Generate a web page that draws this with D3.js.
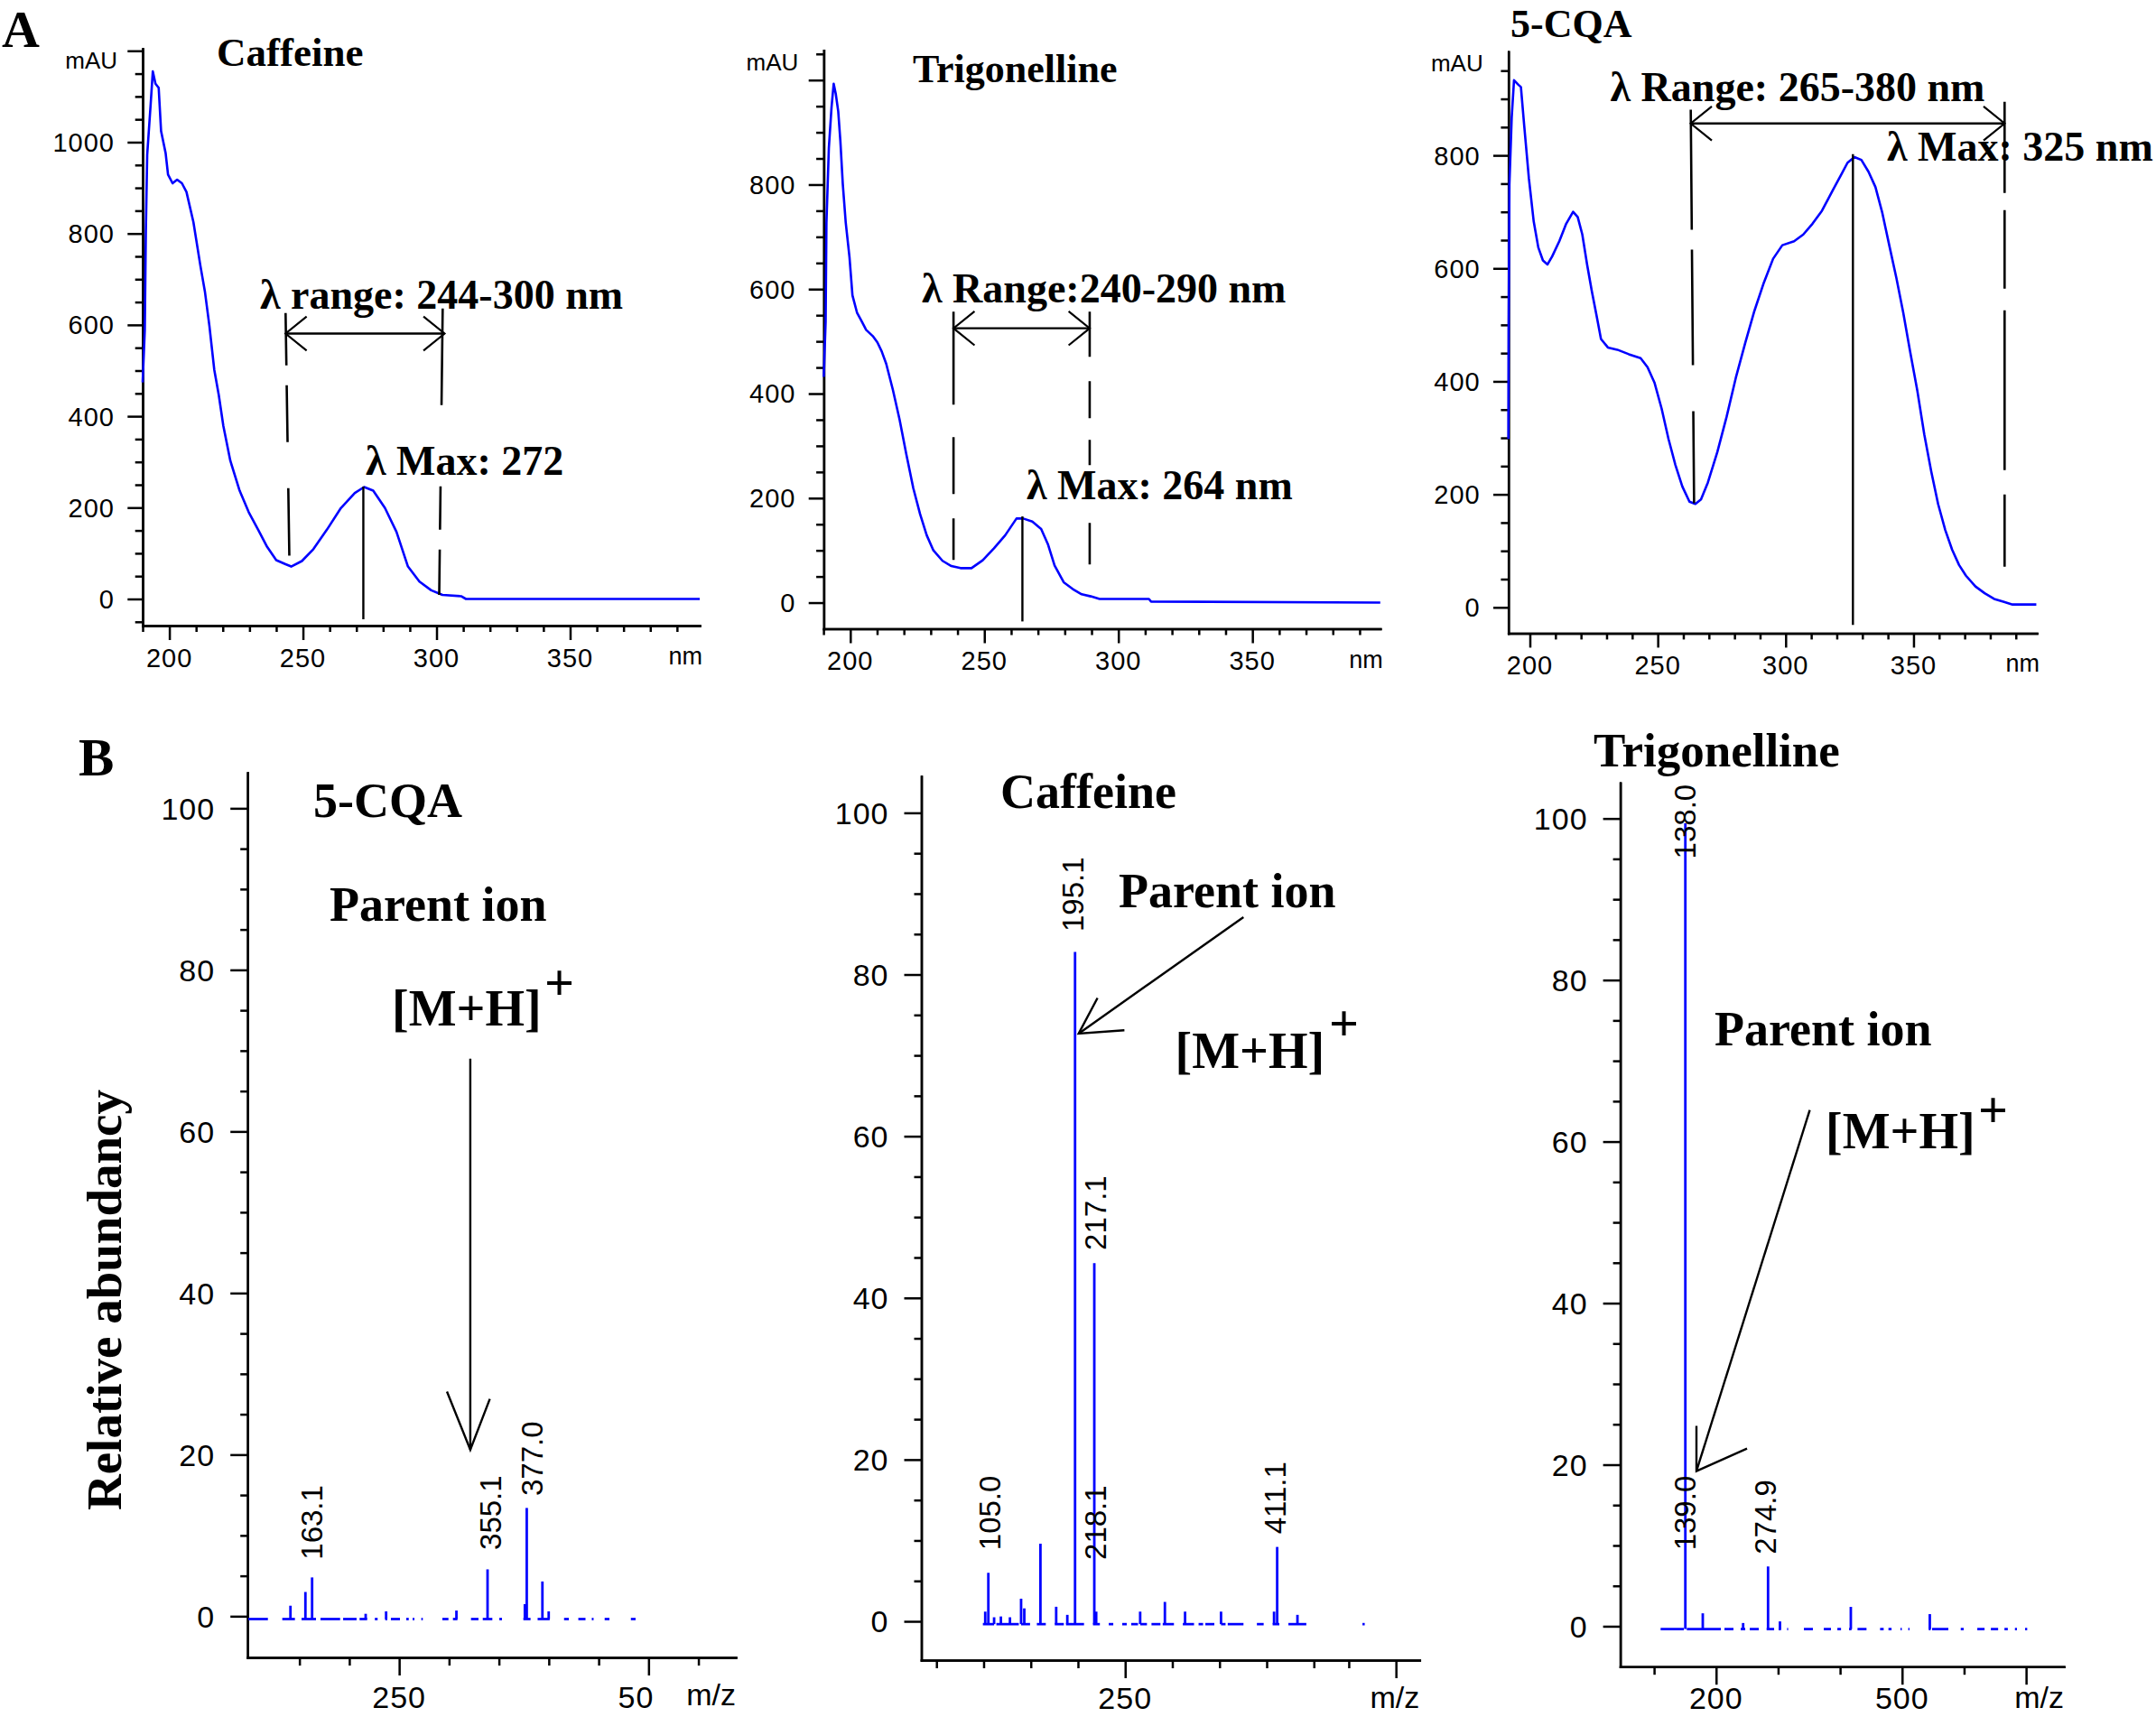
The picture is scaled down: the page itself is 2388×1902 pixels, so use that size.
<!DOCTYPE html>
<html><head><meta charset="utf-8">
<script src="https://cdn.jsdelivr.net/npm/d3@7"></script>
<style>
html,body{margin:0;padding:0;background:#fff;}
svg{display:block;}
.serif{font-family:"Liberation Serif","Times New Roman",serif;font-weight:bold;fill:#000;}
.sans{font-family:"Liberation Sans",Arial,sans-serif;fill:#000;}
</style></head><body>
<svg id="chart" width="2388" height="1902"></svg>
<script>
// ---------------- DATA ----------------
// UV spectra: [wavelength nm, absorbance mAU]
const caffeineUV = [[190,474],[190.8,588],[191.2,806],[191.7,972],[193,1083],[193.8,1155],[194.8,1128],[196,1119],[196.9,1024],[198.6,976],[199.5,929],[201.2,910],[202.9,918],[204.7,910],[206.4,891],[209,825],[211.6,730],[213.3,673],[215,597],[216.8,502],[218.5,446],[220.2,379],[222.8,303],[226.3,237],[229.7,190],[233.2,152],[236.6,114],[240,85],[243.5,76],[245.6,71],[249.6,83],[253.9,109],[259,152],[264.2,199],[269.4,232],[272.9,245],[276.3,237],[280.7,199],[285,147],[289.3,71],[293.6,38],[298,19],[302.2,9],[309.2,6],[311,0],[398.5,0]];
const trigonellineUV = [[190.1,432],[190.8,538],[191.1,727],[192,870],[193,948],[193.8,993],[194.6,973],[195.5,940],[196.3,883],[197.2,801],[198.3,727],[199.7,661],[200.8,588],[202.5,555],[204.2,539],[205.9,522],[208.4,510],[210.1,498],[211.7,481],[213.4,457],[215.9,407],[218.4,350],[220.9,284],[223.5,219],[226,170],[228.5,129],[231,100],[234.4,80],[237.7,70],[241.1,66],[245.2,66],[249.4,81],[253.6,104],[257.8,129],[262,161],[264.5,161],[267.9,155],[271.2,141],[273.7,112],[276.2,71],[279.6,39],[283,26],[286.3,16],[289.7,12],[293,7],[311.4,7],[312.2,2],[397.7,0]];
const cqaUV = [[191.6,298],[191.7,491],[192,748],[192.9,867],[193.8,933],[195.5,925],[196.5,921],[197.8,852],[199.6,760],[201.5,683],[203.3,637],[205.1,614],[206.9,607],[208.7,621],[211.5,648],[214.2,679],[216.9,700],[218.7,691],[220.5,660],[222.4,606],[224.2,560],[226,518],[227.8,475],[230.5,460],[234.2,456],[238.7,448],[243.3,441],[246,425],[248.7,398],[251.5,352],[254.2,298],[256.9,252],[259.6,214],[262.4,187],[264.7,183],[266.9,191],[269.6,221],[273.3,275],[276.9,337],[280.5,406],[284.2,468],[287.8,525],[291.5,575],[295.1,617],[298.7,641],[303.3,648],[306.9,660],[310.5,679],[314.2,702],[317.8,733],[321.5,764],[324.2,787],[326.9,797],[329.6,792],[332.4,771],[335.1,744],[337.8,698],[340.5,641],[343.3,583],[346,521],[348.7,452],[351.5,383],[354.2,306],[356.9,241],[359.6,183],[362.4,137],[365.1,102],[367.8,75],[370.5,56],[374.2,37],[377.8,25],[381.5,15],[385.1,10],[388.7,5],[398,5]];

// UV tick labels
const caffeineUVYLabels = [0,200,400,600,800,1000];
const trigUVYLabels = [0,200,400,600,800];
const cqaUVYLabels = [0,200,400,600,800];
const uvXLabels = [200,250,300,350];

// UV annotations: range arrow [from nm, to nm, level mAU]; range lines [nmTop, mAUTop, nmBottom, mAUBottom]; max line [nm, mAUTop, mAUBottom]
const caffeineRangeArrow = [243.5, 303, 581];
const caffeineRangeLines = [[243.5,626,244.9,95],[302.3,636,301,9]];
const caffeineMaxLine = [272.6, 246, -44.5];
const trigRangeArrow = [238.5, 289.3, 525];
const trigRangeLines = [[238.5,557,238.5,81],[289.3,557,289.3,73]];
const trigMaxLine = [264.2, 165, -36];
const cqaRangeArrow = [262.9, 385.6, 856.5];
const cqaRangeLines = [[262.9,881,264.2,184],[385.6,895,385.6,72]];
const cqaMaxLine = [326.3, 802, -31];

// Mass spectra: peaks [m/z, relative abundance]
const cqaMSPeaks = [[141,1.3],[156,3.0],[162.7,4.8],[216.4,0.3],[236.9,0.6],[307.4,0.7],[338.6,5.8],[376,1.5],[377.9,13.4],[393.6,4.3],[399.9,0.6]];
const cqaMSBaseline = [[98.7,118.4],[132.8,145.5],[152.1,166.6],[171.1,190.8],[193.8,207.3],[210.3,217.9],[225.6,228.4],[236,238.1],[241.7,250.8],[257.1,259.6],[263.5,265.3],[272.2,273.7],[293.3,299.4],[303.9,308.4],[322,329.5],[333.8,343.4],[350.4,353.1],[374.5,381.7],[388.8,400.9],[415.3,420.1],[429.6,436.8],[443.1,444.9],[456,460.8],[482.3,487]];
const cqaMSLabels = [{mz:161.8,at:7.0,t:"163.1"},{mz:341.8,at:8.2,t:"355.1"},{mz:382.9,at:14.9,t:"377.0"}];
const cqaArrow = {shaft:[[321.3,69],[321.3,20.6]], head:[[297.9,27.8],[321.3,20.6],[340.9,26.9]]};

const cafMSPeaks = [[101.7,1.2],[105,6.0],[111.1,0.5],[118.3,0.6],[127.9,0.5],[139.7,2.8],[143.1,1.6],[160.2,9.6],[176.9,1.8],[188.7,0.8],[196.9,82.8],[217.3,44.3],[219.3,1.2],[265.9,1.2],[292.1,2.4],[313.5,1.2],[351.6,1.2],[407.8,1.2],[411.1,9.2],[432.6,0.8]];
const cafMSBaseline = [[99.2,111.1],[113.5,137.3],[139.7,149.2],[156.4,165.9],[175.4,185],[187.3,206.4],[215.9,223.2],[232.6,237.4],[246.9,251.7],[256.4,263.6],[266,273.1],[277.9,287.4],[289.8,301.7],[311.1,323],[327.8,332.6],[335,344.5],[351.6,356.4],[358.7,375.4],[389.6,396.8],[406.3,413.4],[423,442],[501.5,503.9]];
const cafMSLabels = [{mz:105.9,at:8.8,t:"105.0"},{mz:194.3,at:85.3,t:"195.1"},{mz:218.2,at:45.9,t:"217.1"},{mz:218.2,at:7.6,t:"218.1"},{mz:408.6,at:10.8,t:"411.1"}];
const cafArrow = {shaft:[[375.4,87.1],[200.7,72.7]], head:[[220.7,77.1],[200.7,72.7],[249.2,73.1]]};

const trigMSPeaks = [[150.4,99.4],[178.5,1.6],[243.6,0.4],[283.8,7.4],[303,0.6],[417.3,2.4],[544.7,1.5]];
const trigMSBaseline = [[110.5,148],[152.8,207.7],[213.5,228],[239.7,247],[254.3,268.8],[281.5,293.6],[300.9,304.8],[314.6,316.2],[341.6,356.2],[373.7,385.3],[395.6,401.5],[414.5,418.4],[428.1,442.6],[464.5,470.3],[478,483],[497.4,499.5],[510,512],[543,546],[548.4,574.6],[594.6,599.4],[621.3,633],[643.2,654.9],[665.1,670.5],[682,685.3],[698.4,701.8]];
const trigMSLabels = [{mz:149.4,at:95,t:"138.0"},{mz:149.4,at:9.4,t:"139.0"},{mz:279.6,at:8.9,t:"274.9"}];
const trigArrow = {shaft:[[351.1,63.9],[168.3,19.2]], head:[[168.3,24.8],[168.3,19.2],[249.9,22.0]]};

const msYLabels = [0,20,40,60,80,100];
const cqaMSXLabels = [{v:250,t:"250"},{v:500,t:"50"}];
const cafMSXLabels = [{v:250,t:"250"}];
const trigMSXLabels = [{v:200,t:"200"},{v:500,t:"500"}];
const msBaseLevel = -0.35;

// ---------------- DRAWING ----------------
const svg = d3.select("#chart");
svg.append("rect").attr("width",2388).attr("height",1902).attr("fill","#fff");
const BLUE = "#0000ff";

function styleAxis(sel){
  sel.selectAll(".domain,.tick line").attr("stroke","#000").attr("stroke-width",2.5);
  sel.selectAll(".domain").attr("stroke-linecap","square");
}
function axes(g, x, y, o){
  const xb = x.range()[0], yb = y.range()[0];
  [[o.yMinor,o.yMinorLen],[o.yMajor,o.yMajorLen]].forEach(([v,l])=>
    g.append("g").attr("transform",`translate(${xb},0)`)
     .call(d3.axisLeft(y).tickValues(v).tickSize(l).tickFormat("").tickSizeOuter(0)).call(styleAxis));
  [[o.xMinor,o.xMinorLen],[o.xMajor,o.xMajorLen]].forEach(([v,l])=>
    g.append("g").attr("transform",`translate(0,${yb})`)
     .call(d3.axisBottom(x).tickValues(v).tickSize(l).tickFormat("").tickSizeOuter(0)).call(styleAxis));
}
function txt(g, x, y, s, fs, cls, anchor){
  return g.append("text").attr("class",cls||"serif").attr("x",x).attr("y",y)
    .attr("font-size",fs).attr("text-anchor",anchor||"start").text(s);
}
function line(g, pts, w, dash){
  const p = g.append("path").attr("d", d3.line()(pts)).attr("fill","none")
    .attr("stroke","#000").attr("stroke-width",w||2.4);
  if(dash) p.attr("stroke-dasharray",dash);
  return p;
}
function arrowHead(g, tip, dir, len, ang){
  const a = Math.atan2(dir[1],dir[0]);
  const p1 = [tip[0]-len*Math.cos(a-ang), tip[1]-len*Math.sin(a-ang)];
  const p2 = [tip[0]-len*Math.cos(a+ang), tip[1]-len*Math.sin(a+ang)];
  line(g,[p1,tip,p2],2.2);
}

function uvPanel(p){
  const g = svg.append("g");
  const x = d3.scaleLinear(p.xDomain, p.xRange);
  const y = d3.scaleLinear(p.yDomain, p.yRange);
  const yMinor = d3.range(-50, p.yDomain[1]+0.1, 50).filter(v=>v>p.yDomain[0] && v%200!==0);
  const yMajor = d3.range(0, p.yDomain[1]+0.1, 200);
  const xMinor = d3.range(190, p.xDomain[1], 10).filter(v=>v>=p.xDomain[0]-0.5 && v%50!==0);
  axes(g,x,y,{yMinor, yMajor, yMinorLen:8.3, yMajorLen:16.7,
              xMinor, xMajor:uvXLabels, xMinorLen:7, xMajorLen:16});
  const xb = x.range()[0], yb = y.range()[0];
  g.selectAll(null).data(p.yLabels).join("text").attr("class","sans")
    .attr("x", xb-31).attr("y", d=>y(d)).attr("dy","0.36em").attr("text-anchor","end")
    .attr("font-size",29).attr("letter-spacing",1).text(d=>d);
  g.selectAll(null).data(uvXLabels).join("text").attr("class","sans")
    .attr("x", d=>x(d)).attr("y", yb+45.5).attr("text-anchor","middle")
    .attr("font-size",29).attr("letter-spacing",1).text(d=>d);
  txt(g, xb-28, y.range()[1]+22, "mAU", 26, "sans", "end");
  txt(g, x.range()[1]+3, yb+43, "nm", 27, "sans", "end");
  g.append("path").datum(p.data).attr("fill","none").attr("stroke",BLUE).attr("stroke-width",2.6)
    .attr("stroke-linejoin","round")
    .attr("d", d3.line().x(d=>x(d[0])).y(d=>y(d[1])));
  p.rangeLines.forEach((r,i)=> line(g,[[x(r[0]),y(r[1])],[x(r[2]),y(r[3])]],2.6,p.dashes[i]));
  line(g,[[x(p.maxLine[0]),y(p.maxLine[1])],[x(p.maxLine[0]),y(p.maxLine[2])]],2.4);
  const ax1 = x(p.arrow[0]), ax2 = x(p.arrow[1]), ay = y(p.arrow[2]);
  line(g,[[ax1,ay],[ax2,ay]],2.4);
  arrowHead(g,[ax1,ay],[-1,0],30,0.68);
  arrowHead(g,[ax2,ay],[1,0],30,0.68);
  p.texts.forEach(t=> txt(g,t[0],t[1],t[2],t[3]));
}

uvPanel({xDomain:[190,398.5], xRange:[158,775], yDomain:[-58.3,1204.5], yRange:[693,54],
  data:caffeineUV, yLabels:caffeineUVYLabels,
  rangeLines:caffeineRangeLines, dashes:["58,22,63,51,75","107,90,48,22,51"],
  maxLine:caffeineMaxLine, arrow:caffeineRangeArrow,
  texts:[[2,52,"A",58],[240,73,"Caffeine",45],[288,342,"λ range: 244-300 nm",46],[405,526,"λ Max: 272",46]]});
uvPanel({xDomain:[190.1,397.7], xRange:[912.4,1528.8], yDomain:[-50,1057], yRange:[696.5,55.7],
  data:trigonellineUV, yLabels:trigUVYLabels,
  rangeLines:trigRangeLines, dashes:["103,36,63,27,46","50,27,41,24,28,64,46"],
  maxLine:trigMaxLine, arrow:trigRangeArrow,
  texts:[[1011,91,"Trigonelline",44],[1021,334.5,"λ Range:240-290 nm",46],[1137,552.6,"λ Max: 264 nm",46]]});
uvPanel({xDomain:[191.6,398.2], xRange:[1670.7,2256], yDomain:[-45.7,983.6], yRange:[701.4,57.2],
  data:cqaUV, yLabels:cqaUVYLabels,
  rangeLines:cqaRangeLines, dashes:["133,22,128,51,102","101,19,87,24,177,27,80"],
  maxLine:cqaMaxLine, arrow:cqaRangeArrow,
  texts:[[1673,41,"5-CQA",44],[1783.5,111.5,"λ Range: 265-380 nm",46],[2090,178.4,"λ Max: 325 nm",46]]});

function msPanel(p){
  const g = svg.append("g");
  const x = d3.scaleLinear(p.xDomain, p.xRange);
  const y = d3.scaleLinear(p.yDomain, p.yRange);
  const yMinor = d3.range(5, 101, 5).filter(v=>v%20!==0);
  axes(g,x,y,{yMinor, yMajor:msYLabels, yMinorLen:8, yMajorLen:19,
              xMinor:p.xMinor, xMajor:p.xMajor, xMinorLen:9, xMajorLen:20});
  const xb = x.range()[0], yb = y.range()[0];
  const labY = Math.min(yb+55.5, 1893);
  g.selectAll(null).data(msYLabels).join("text").attr("class","sans")
    .attr("x", xb-36).attr("y", d=>y(d)).attr("dy","0.36em").attr("text-anchor","end")
    .attr("font-size",34).attr("letter-spacing",1).text(d=>d);
  g.selectAll(null).data(p.xLabels).join("text").attr("class","sans")
    .attr("x", d=> String(d.v)===d.t ? x(d.v) : x(d.v)+6)
    .attr("text-anchor", d=> String(d.v)===d.t ? "middle" : "end")
    .attr("y", labY).attr("font-size",34).attr("letter-spacing",1).text(d=>d.t);
  txt(g, x.range()[1], Math.min(yb+53, 1892), "m/z", 34, "sans", "end");
  g.selectAll(null).data(p.baseline).join("line")
    .attr("x1",d=>x(d[0])).attr("x2",d=>x(d[1])).attr("y1",y(msBaseLevel)).attr("y2",y(msBaseLevel))
    .attr("stroke",BLUE).attr("stroke-width",2.7);
  g.selectAll(null).data(p.peaks).join("line")
    .attr("x1",d=>x(d[0])).attr("x2",d=>x(d[0])).attr("y1",y(msBaseLevel)).attr("y2",d=>y(d[1]))
    .attr("stroke",BLUE).attr("stroke-width",2.8);
  g.selectAll(null).data(p.labels).join("text").attr("class","sans")
    .attr("font-size",33)
    .attr("transform",d=>`translate(${x(d.mz)+0.36*33},${y(d.at)}) rotate(-90)`)
    .text(d=>d.t);
  line(g, p.arrow.shaft.map(d=>[x(d[0]),y(d[1])]), 2.4);
  line(g, p.arrow.head.map(d=>[x(d[0]),y(d[1])]), 2.4);
  p.texts.forEach(t=> txt(g,t[0],t[1],t[2],t[3], t[4]?"serif plain":"serif"));
  g.selectAll(".plain").attr("font-weight","normal");
}

msPanel({xDomain:[98,587.5], xRange:[274.2,815], yDomain:[-5.1,104.4], yRange:[1836,856],
  peaks:cqaMSPeaks, baseline:cqaMSBaseline, labels:cqaMSLabels, arrow:cqaArrow,
  xMinor:[150,200,300,350,400,450,550], xMajor:[250,500], xLabels:cqaMSXLabels,
  texts:[[87,859,"B",59],[347,905,"5-CQA",54],[365,1020,"Parent ion",54],[434,1136,"[M+H]",56],[603,1108,"+",58,1]]});
msPanel({xDomain:[34,562], xRange:[1020.5,1572.3], yDomain:[-4.8,104.5], yRange:[1839,860.1],
  peaks:cafMSPeaks, baseline:cafMSBaseline, labels:cafMSLabels, arrow:cafArrow,
  xMinor:[50,100,150,200,300,350,400,450,487], xMajor:[250,537], xLabels:cafMSXLabels,
  texts:[[1108,894.5,"Caffeine",54],[1239,1005.4,"Parent ion",54],[1301.6,1182.5,"[M+H]",56],[1472,1153,"+",58,1]]});
msPanel({xDomain:[45.4,761], xRange:[1794.6,2286], yDomain:[-5,104.4], yRange:[1846.2,867.3],
  peaks:trigMSPeaks, baseline:trigMSBaseline, labels:trigMSLabels, arrow:trigArrow,
  xMinor:[100,300,400,600], xMajor:[200,500,700], xLabels:trigMSXLabels,
  texts:[[1765,849.4,"Trigonelline",53],[1899,1157.8,"Parent ion",54],[2022,1272,"[M+H]",56],[2191,1248.5,"+",58,1]]});

svg.append("text").attr("class","serif").attr("font-size",55)
  .attr("text-anchor","middle").attr("transform","translate(134,1440) rotate(-90)")
  .text("Relative abundancy");
</script>
</body></html>
